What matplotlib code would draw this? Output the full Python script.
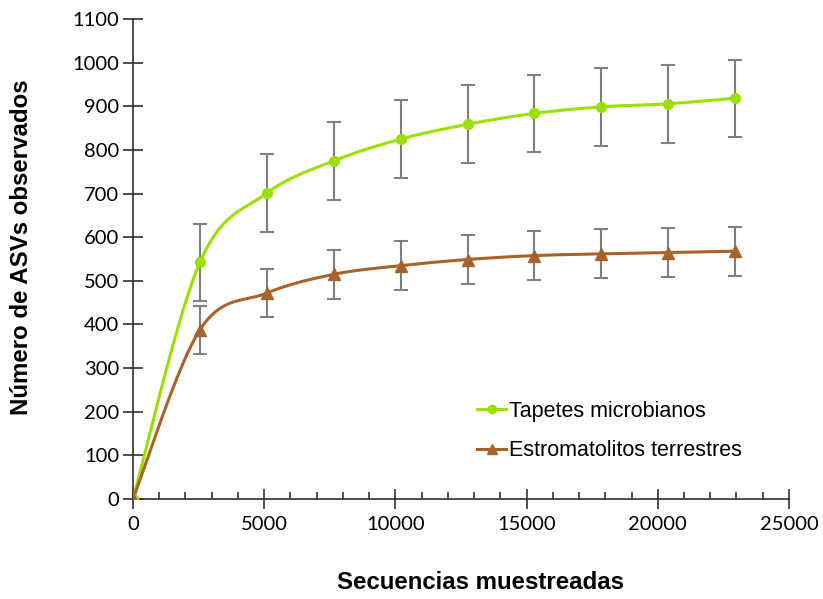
import matplotlib
matplotlib.use("Agg")
import matplotlib.pyplot as plt
import numpy as np
from matplotlib.ticker import MultipleLocator

plt.rcParams['font.family'] = ['Liberation Sans', 'DejaVu Sans']

# data
secuencias = [0, 2550, 5100, 7650, 10200, 12750, 15300, 17850, 20400, 22950]
tapetes = [0, 543, 701, 775, 825, 859, 884, 899, 906, 919]
tapetes_err = [0, 88, 90, 90, 89, 89, 89, 89, 89, 88]
estromatolitos = [0, 388, 472, 515, 535, 549, 558, 562, 565, 568]
estromatolitos_err = [0, 55, 55, 56, 56, 56, 56, 56, 56, 56]

verde = '#9AE000'
marron = '#A8632A'


def suavizar(x, y, n=40):
    # Excel-like smoothed line (Catmull-Rom bezier through the points)
    x = np.asarray(x, float)
    y = np.asarray(y, float)
    px, py = [], []
    for i in range(len(x) - 1):
        i0 = max(i - 1, 0)
        i3 = min(i + 2, len(x) - 1)
        c1x = x[i] + (x[i + 1] - x[i0]) / 6
        c1y = y[i] + (y[i + 1] - y[i0]) / 6
        c2x = x[i + 1] - (x[i3] - x[i]) / 6
        c2y = y[i + 1] - (y[i3] - y[i]) / 6
        t = np.linspace(0, 1, n)
        b0 = (1 - t) ** 3
        b1 = 3 * (1 - t) ** 2 * t
        b2 = 3 * (1 - t) * t ** 2
        b3 = t ** 3
        px.extend(b0 * x[i] + b1 * c1x + b2 * c2x + b3 * x[i + 1])
        py.extend(b0 * y[i] + b1 * c1y + b2 * c2y + b3 * y[i + 1])
    return px, py


fig = plt.figure(figsize=(8.23, 5.99), dpi=100)
ax = fig.add_axes([0.1616, 0.167, 0.797, 0.801])

ax.errorbar(secuencias, tapetes, yerr=tapetes_err, fmt='none', ecolor='#7f7f7f',
            elinewidth=1.5, capsize=5, capthick=1.5, zorder=2)
ax.errorbar(secuencias, estromatolitos, yerr=estromatolitos_err, fmt='none', ecolor='#7f7f7f',
            elinewidth=1.5, capsize=5, capthick=1.5, zorder=2)

sx, sy = suavizar(secuencias, tapetes)
ax.plot(sx, sy, color=verde, lw=2.2, zorder=3)
ax.plot(secuencias, tapetes, 'o', color=verde, ms=7, zorder=4)
sx, sy = suavizar(secuencias, estromatolitos)
ax.plot(sx, sy, color=marron, lw=2.2, zorder=3)
ax.plot(secuencias, estromatolitos, '^', color=marron, ms=8, zorder=4)

h1, = ax.plot([], [], '-o', color=verde, lw=2.2, ms=6, label='Tapetes microbianos')
h2, = ax.plot([], [], '-^', color=marron, lw=2.2, ms=7, label='Estromatolitos terrestres')
ax.legend(handles=[h1, h2], loc='upper left', bbox_to_anchor=(0.495, 0.245), frameon=False,
          fontsize=15.5, handlelength=1.35, handletextpad=0.15, labelspacing=0.85)

ax.set_xlim(0, 25000)
ax.set_ylim(0, 1100)
ax.xaxis.set_major_locator(MultipleLocator(5000))
ax.xaxis.set_minor_locator(MultipleLocator(1000))
ax.yaxis.set_major_locator(MultipleLocator(100))

for s in ['top', 'right']:
    ax.spines[s].set_visible(False)
for s in ['left', 'bottom']:
    ax.spines[s].set_color('#303030')
    ax.spines[s].set_linewidth(1.2)

ax.tick_params(axis='both', which='major', direction='inout', length=14, width=1.2,
               color='#303030', pad=3)
ax.tick_params(axis='x', which='minor', direction='in', length=5, width=1.2, color='#303030')
ax.tick_params(axis='x', which='major', pad=5)
for lab in ax.get_xticklabels() + ax.get_yticklabels():
    lab.set_fontfamily(['Lato', 'DejaVu Sans'])
    lab.set_fontsize(14.5)

ax.set_xlabel('Secuencias muestreadas', fontsize=17.3, fontweight='bold')
ax.set_ylabel('Número de ASVs observados', fontsize=17.3, fontweight='bold')
ax.xaxis.set_label_coords(0.53, -0.15)
ax.yaxis.set_label_coords(-0.152, 0.525)

fig.savefig('out.png', dpi=100)
